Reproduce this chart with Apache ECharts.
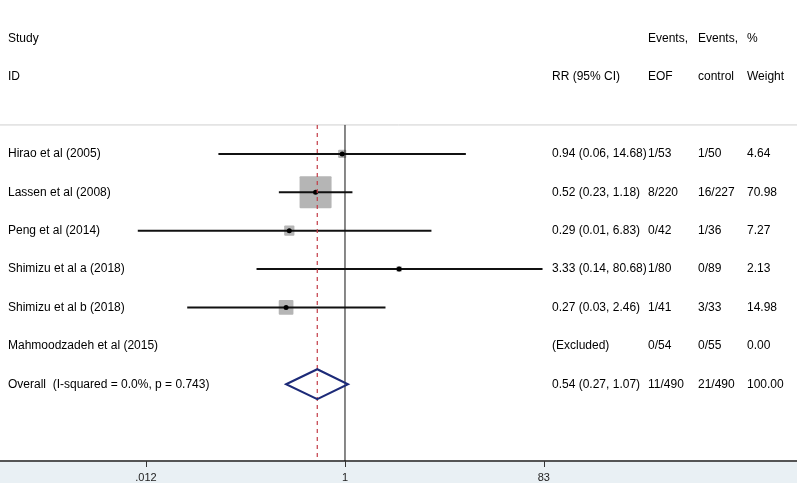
<!DOCTYPE html>
<html>
<head>
<meta charset="utf-8">
<title>Forest plot</title>
<script src="https://cdn.jsdelivr.net/npm/echarts@6/dist/echarts.min.js"></script>
<style>
  html, body { margin: 0; padding: 0; background: #fff; }
  #chart { width: 797px; height: 483px; }
</style>
</head>
<body>
<div id="chart"></div>
<script>
// study rows, top to bottom (last one is the pooled estimate)
var studies = ['Hirao et al (2005)', 'Lassen et al (2008)', 'Peng et al (2014)',
  'Shimizu et al a (2018)', 'Shimizu et al b (2018)', 'Mahmoodzadeh et al (2015)',
  'Overall  (I-squared = 0.0%, p = 0.743)'];
var rr = [0.94, 0.52, 0.29, 3.33, 0.27, null, 0.54];
var lower = [0.06, 0.23, 0.01, 0.14, 0.03, null, 0.27];
var upper = [14.68, 1.18, 6.83, 80.68, 2.46, null, 1.07];
var eventsEOF = ['1/53', '8/220', '0/42', '1/80', '1/41', '0/54', '11/490'];
var eventsControl = ['1/50', '16/227', '1/36', '0/89', '3/33', '0/55', '21/490'];
var weights = [4.64, 70.98, 7.27, 2.13, 14.98, 0.00, 100.00];
var tickValues = [0.012, 1, 83];
var tickLabels = ['.012', '1', '83'];

var overallIdx = studies.length - 1;
var sepRow = -0.755;
var yMin = -4.01, yMax = 8;
var xMin = -3.33, xMax = 4.363;
var fontFam = '"Liberation Sans", Arial, sans-serif';

function lg(v) { return Math.log10(v); }

function ciLabel(i) {
  if (rr[i] == null) return '(Excluded)';
  return rr[i].toFixed(2) + ' (' + lower[i].toFixed(2) + ', ' + upper[i].toFixed(2) + ')';
}

// table text: [row, column x, text]
var cols = { study: 8, ci: 552, eof: 648, ctrl: 698, wt: 747 };
var textRows = [
  [-3, cols.study, 'Study'], [-3, cols.eof, 'Events,'], [-3, cols.ctrl, 'Events,'], [-3, cols.wt, '%'],
  [-2, cols.study, 'ID'], [-2, cols.ci, 'RR (95% CI)'], [-2, cols.eof, 'EOF'], [-2, cols.ctrl, 'control'], [-2, cols.wt, 'Weight']
];
studies.forEach(function (s, i) {
  textRows.push([i, cols.study, s]);
  textRows.push([i, cols.ci, ciLabel(i)]);
  textRows.push([i, cols.eof, eventsEOF[i]]);
  textRows.push([i, cols.ctrl, eventsControl[i]]);
  textRows.push([i, cols.wt, weights[i].toFixed(2)]);
});

var studyData = [];
var maxW = 0;
for (var i = 0; i < overallIdx; i++) {
  if (rr[i] == null) continue;
  maxW = Math.max(maxW, weights[i]);
  studyData.push([lg(lower[i]), lg(upper[i]), lg(rr[i]), i, weights[i]]);
}

var chart = echarts.init(document.getElementById('chart'));

var option = {
  animation: false,
  graphic: [{
    type: 'rect', left: 0, bottom: 0, z: -10,
    shape: { width: 797, height: 22 },
    style: { fill: '#e9f0f4' }
  }],
  grid: { left: 0, right: 0, top: 0, bottom: 22 },
  xAxis: {
    type: 'value', min: xMin, max: xMax,
    splitLine: { show: false },
    axisLine: { onZero: false, lineStyle: { color: '#555', width: 2 } },
    axisTick: {
      customValues: tickValues.map(lg), length: 6,
      lineStyle: { color: '#333', width: 1 }
    },
    axisLabel: {
      customValues: tickValues.map(lg), margin: 11,
      color: '#222', fontSize: 11, fontFamily: fontFam,
      formatter: function (v) {
        for (var k = 0; k < tickValues.length; k++) {
          if (Math.abs(lg(tickValues[k]) - v) < 1e-6) return tickLabels[k];
        }
        return '';
      }
    }
  },
  yAxis: { type: 'value', inverse: true, min: yMin, max: yMax, show: false },
  series: [
    {
      type: 'line', symbol: 'none', silent: true,
      lineStyle: { color: '#cfcfcf', width: 1 },
      data: [[xMin, sepRow], [xMax, sepRow]]
    },
    {
      type: 'line', symbol: 'none', silent: true,
      lineStyle: { color: '#111', width: 1 },
      data: [[0, sepRow], [0, yMax]]
    },
    {
      type: 'line', symbol: 'none', silent: true, z: 3,
      lineStyle: { color: '#c23a45', width: 1.2, type: [4, 4] },
      data: [[lg(rr[overallIdx]), sepRow], [lg(rr[overallIdx]), yMax]]
    },
    {
      type: 'custom', z: 2,
      data: studyData,
      renderItem: function (params, api) {
        var lo = api.coord([api.value(0), api.value(3)]);
        var hi = api.coord([api.value(1), api.value(3)]);
        var est = api.coord([api.value(2), api.value(3)]);
        var side = 32 * Math.sqrt(api.value(4) / maxW);
        return {
          type: 'group', children: [
            { type: 'rect', shape: { x: est[0] - side / 2, y: est[1] - side / 2, width: side, height: side, r: 1 },
              style: { fill: '#b5b5b5' } },
            { type: 'line', shape: { x1: lo[0], y1: lo[1], x2: hi[0], y2: hi[1] },
              style: { stroke: '#111', lineWidth: 2 } },
            { type: 'circle', shape: { cx: est[0], cy: est[1], r: 2.5 }, style: { fill: '#000' } }
          ]
        };
      }
    },
    {
      type: 'custom', z: 4,
      data: [[lg(lower[overallIdx]), lg(rr[overallIdx]), lg(upper[overallIdx]), overallIdx]],
      renderItem: function (params, api) {
        var l = api.coord([api.value(0), api.value(3)]);
        var c = api.coord([api.value(1), api.value(3)]);
        var r = api.coord([api.value(2), api.value(3)]);
        var h = 15;
        return {
          type: 'polygon',
          shape: { points: [[l[0], l[1]], [c[0], c[1] - h], [r[0], r[1]], [c[0], c[1] + h]] },
          style: { fill: 'none', stroke: '#1c2a78', lineWidth: 2 }
        };
      }
    },
    {
      type: 'custom', z: 5, silent: true,
      data: textRows,
      renderItem: function (params, api) {
        var y = api.coord([0, api.value(0)])[1];
        var row = textRows[params.dataIndex];
        return {
          type: 'text',
          style: {
            x: row[1], y: y, text: row[2],
            fill: '#000', font: '12px ' + fontFam,
            verticalAlign: 'middle', align: 'left'
          }
        };
      }
    }
  ]
};

chart.setOption(option);
</script>
</body>
</html>
